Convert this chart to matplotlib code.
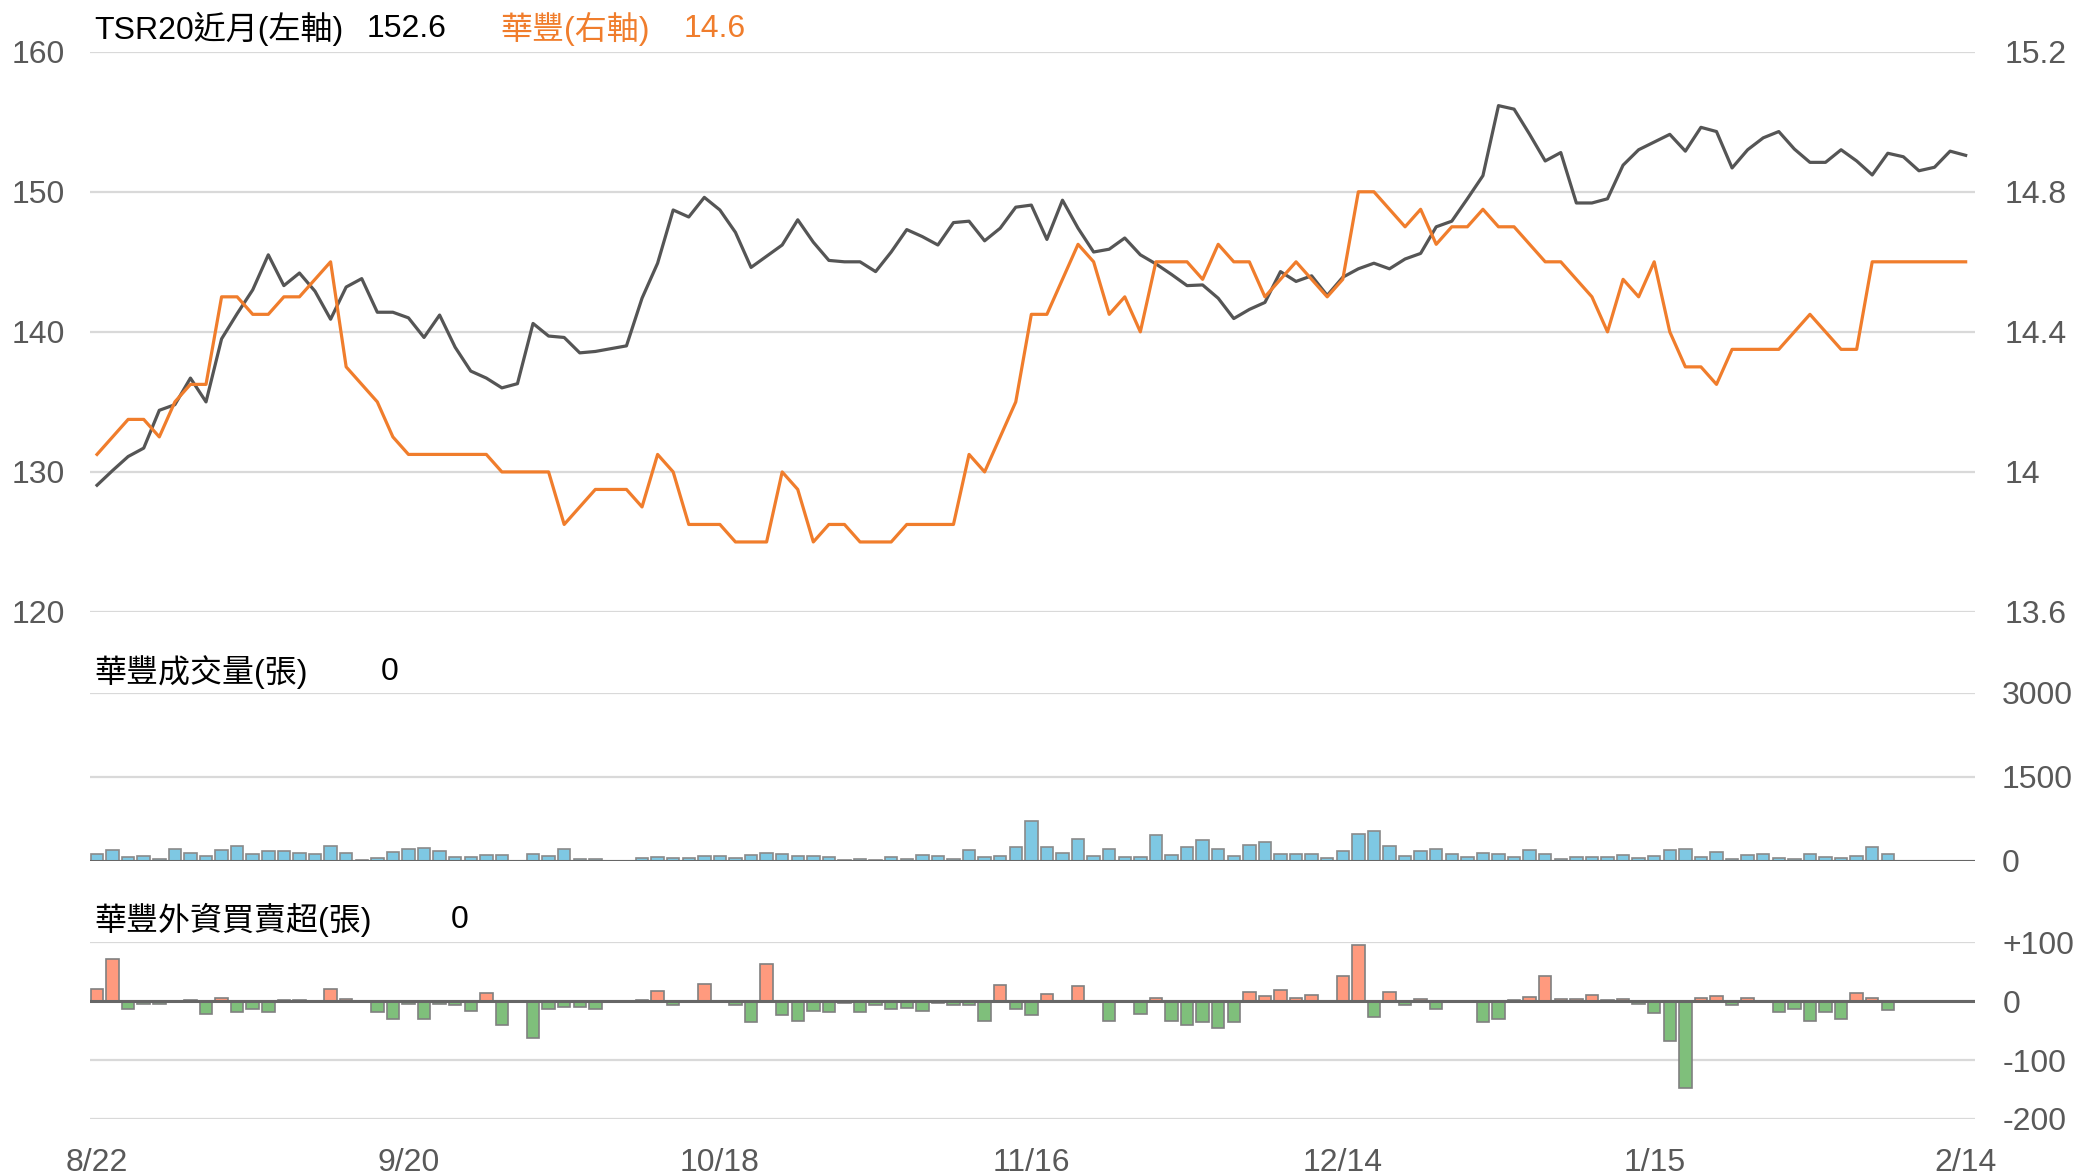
import matplotlib
matplotlib.use('Agg')
import matplotlib.pyplot as plt
import numpy as np

# ---------------- data ----------------
tsr20 = [129.05, 130.1, 131.1, 131.7, 134.4, 134.8, 136.7, 135.0, 139.5, 141.3,
         143.0, 145.5, 143.3, 144.2, 142.9, 140.9, 143.2, 143.8, 141.4, 141.4,
         141.0, 139.6, 141.2, 138.9, 137.2, 136.7, 136.0, 136.3, 140.6, 139.7,
         139.6, 138.5, 138.6, 138.8, 139.0, 142.4, 144.9, 148.7, 148.2, 149.6,
         148.7, 147.1, 144.6, 145.4, 146.2, 148.0, 146.4, 145.1, 145.0, 145.0,
         144.3, 145.7, 147.3, 146.8, 146.2, 147.8, 147.9, 146.5, 147.4, 148.9,
         149.05, 146.6, 149.4, 147.4, 145.7, 145.9, 146.7, 145.5, 144.85, 144.1,
         143.3, 143.35, 142.4, 140.95, 141.6, 142.1, 144.3, 143.6, 144.0, 142.6,
         143.9, 144.5, 144.9, 144.5, 145.2, 145.6, 147.5, 147.9, 149.5, 151.15,
         156.15, 155.9, 154.1, 152.2, 152.8, 149.2, 149.2, 149.5, 151.9, 153.0,
         153.55, 154.1, 152.9, 154.6, 154.3, 151.7, 153.0, 153.85, 154.3, 153.05,
         152.1, 152.1, 153.0, 152.2, 151.2, 152.75, 152.5, 151.5, 151.75, 152.9,
         152.6]

huafeng = [14.05, 14.1, 14.15, 14.15, 14.1, 14.2, 14.25, 14.25, 14.5, 14.5,
           14.45, 14.45, 14.5, 14.5, 14.55, 14.6, 14.3, 14.25, 14.2, 14.1,
           14.05, 14.05, 14.05, 14.05, 14.05, 14.05, 14.0, 14.0, 14.0, 14.0,
           13.85, 13.9, 13.95, 13.95, 13.95, 13.9, 14.05, 14.0, 13.85, 13.85,
           13.85, 13.8, 13.8, 13.8, 14.0, 13.95, 13.8, 13.85, 13.85, 13.8,
           13.8, 13.8, 13.85, 13.85, 13.85, 13.85, 14.05, 14.0, 14.1, 14.2,
           14.45, 14.45, 14.55, 14.65, 14.6, 14.45, 14.5, 14.4, 14.6, 14.6,
           14.6, 14.55, 14.65, 14.6, 14.6, 14.5, 14.55, 14.6, 14.55, 14.5,
           14.55, 14.8, 14.8, 14.75, 14.7, 14.75, 14.65, 14.7, 14.7, 14.75,
           14.7, 14.7, 14.65, 14.6, 14.6, 14.55, 14.5, 14.4, 14.55, 14.5,
           14.6, 14.4, 14.3, 14.3, 14.25, 14.35, 14.35, 14.35, 14.35, 14.4,
           14.45, 14.4, 14.35, 14.35, 14.6, 14.6, 14.6, 14.6, 14.6, 14.6,
           14.6]

volume = [132, 192, 66, 84, 36, 210, 138, 90, 204, 264,
          126, 186, 174, 138, 132, 264, 144, 24, 60, 168,
          222, 240, 186, 72, 66, 108, 102, 0, 126, 85,
          216, 42, 36, 0, 0, 60, 78, 60, 60, 90,
          90, 60, 108, 138, 120, 84, 90, 72, 18, 42,
          24, 72, 42, 102, 96, 30, 192, 66, 96, 252,
          720, 252, 150, 384, 96, 222, 78, 72, 462, 108,
          258, 378, 222, 84, 288, 336, 132, 120, 132, 60,
          180, 486, 534, 264, 90, 186, 210, 132, 78, 144,
          120, 78, 198, 120, 42, 78, 78, 78, 102, 60,
          90, 204, 222, 72, 156, 42, 114, 120, 60, 42,
          120, 66, 48, 90, 258, 132]

foreign = [21, 72, -14, -5, -5, 1, 2, -21, 6, -19,
           -13, -19, 2, 2, 1, 21, 4, 0, -19, -31,
           -5, -31, -4, -7, -17, 14, -41, 0, -62, -13,
           -10, -9, -14, 0, 0, 2, 18, -6, 1, 30,
           -1, -7, -36, 63, -23, -34, -17, -19, -3, -18,
           -6, -13, -11, -17, -3, -7, -7, -34, 27, -14,
           -23, 12, -1, 26, -2, -34, -1, -21, 6, -34,
           -40, -35, -45, -35, 15, 9, 19, 6, 11, 0,
           42, 96, -27, 15, -6, 4, -13, -2, 1, -36,
           -30, 2, 7, 43, 3, 4, 10, 2, 3, -5,
           -20, -67, -148, 6, 9, -6, 5, 1, -18, -14,
           -34, -19, -30, 14, 6, -15]

xtick_labels = ['8/22', '9/20', '10/18', '11/16', '12/14', '1/15', '2/14']
xtick_pos = [0, 20, 40, 60, 80, 100, 120]

# ---------------- style ----------------
plt.rcParams['font.family'] = ['Liberation Sans', 'Noto Sans CJK TC']
W, H = 2079, 1176
fig = plt.figure(figsize=(W / 100, H / 100), dpi=100)

GRID = '#d9d9d9'
TICK = '#595959'
ORANGE = '#f07d2c'
GRAY_LINE = '#555555'
FS = 23

L, R = 90, 1975
xlim = (-0.45, 120.6)


def px_axes(top, bottom):
    return fig.add_axes([L / W, 1 - bottom / H, (R - L) / W, (bottom - top) / H])


def clean(ax):
    for s in ax.spines.values():
        s.set_visible(False)
    ax.tick_params(length=0, labelsize=FS, labelcolor=TICK)
    ax.set_xlim(*xlim)


x = np.arange(len(tsr20))

# ---- top price panel ----
ax1 = px_axes(51.7, 612)
clean(ax1)
ax1.set_ylim(120, 160)
ax1.set_yticks([120, 130, 140, 150, 160])
ax1.yaxis.grid(True, color=GRID, lw=1.6)
ax1.set_axisbelow(True)
ax1.set_xticks([])
ax1.tick_params(axis='y', pad=18)
ax1.plot(x, tsr20, color=GRAY_LINE, lw=2.3, zorder=3)

ax2 = ax1.twinx()
clean(ax2)
ax2.set_ylim(13.6, 15.2)
ax2.set_yticks([13.6, 14.0, 14.4, 14.8, 15.2])
ax2.set_yticklabels(['13.6', '14', '14.4', '14.8', '15.2'])
ax2.tick_params(axis='y', pad=21)
ax2.set_xticks([])
ax2.plot(x, huafeng, color=ORANGE, lw=2.3, zorder=3)

# ---- volume panel ----
ax3 = px_axes(693, 861)
clean(ax3)
ax3.yaxis.tick_right()
ax3.set_yticks([0, 1500, 3000])
ax3.set_yticklabels(['0', '1500', '3000'])
ax3.tick_params(axis='y', pad=19)
ax3.yaxis.grid(True, color=GRID, lw=1.6)
ax3.set_axisbelow(True)
ax3.set_xticks([])
xb = np.arange(len(volume))
ax3.bar(xb, volume, width=0.8, color='#7ec8e3', edgecolor='#8a8a8a', lw=1.2, zorder=2)
ax3.axhline(0, color='#666666', lw=2.2, zorder=3)
ax3.set_ylim(0, 3000)

# ---- foreign net buy panel ----
ax4 = px_axes(942.3, 1119)
clean(ax4)
ax4.yaxis.tick_right()
ax4.set_yticks([-200, -100, 0, 100])
ax4.set_yticklabels(['-200', '-100', '0', '+100'])
ax4.tick_params(axis='y', pad=20)
ax4.yaxis.grid(True, color=GRID, lw=1.6)
ax4.set_axisbelow(True)
xf = np.arange(len(foreign))
fcol = ['#ff9a7e' if v >= 0 else '#7fbf7b' for v in foreign]
ax4.bar(xf, foreign, width=0.8, color=fcol, edgecolor='#808080', lw=1.2, zorder=2)
ax4.axhline(0, color='#666666', lw=2.2, zorder=3)
ax4.set_ylim(-200, 100)
ax4.set_xticks(xtick_pos)
ax4.set_xticklabels(xtick_labels)
ax4.tick_params(axis='x', pad=21)

# ---- titles ----
def ftext(xp, yp, s, color='black'):
    fig.text(xp / W, 1 - yp / H, s, fontsize=FS, color=color, ha='left', va='center')

ftext(94, 29, 'TSR20近月(左軸)')
ftext(367, 29, '152.6')
ftext(500, 29, '華豐(右軸)', ORANGE)
ftext(684, 29, '14.6', ORANGE)
ftext(94, 672, '華豐成交量(張)')
ftext(381, 672, '0')
ftext(94, 920, '華豐外資買賣超(張)')
ftext(451, 920, '0')

fig.savefig('out.png', dpi=100, facecolor='white')
